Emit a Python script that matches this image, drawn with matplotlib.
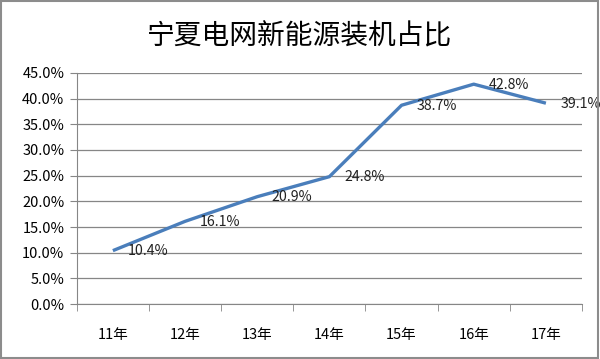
import matplotlib.pyplot as plt
from matplotlib.patches import Rectangle
from matplotlib.ticker import FuncFormatter, MultipleLocator

plt.rcParams['font.family'] = ['Noto Sans CJK SC', 'DejaVu Sans']

# data
years = ["11年", "12年", "13年", "14年", "15年", "16年", "17年"]
share = [10.4, 16.1, 20.9, 24.8, 38.7, 42.8, 39.1]

fig = plt.figure(figsize=(6, 3.59), dpi=100)
ax = fig.add_axes([0.128, 0.153, 0.842, 0.644])

x = list(range(len(years)))
ax.plot(x, share, color="#4a7ebb", linewidth=2.4, solid_capstyle="butt")

for xi, v in zip(x, share):
    ax.annotate(f"{v:.1f}%", (xi, v), xytext=(10.5, -0.5), textcoords="offset points",
                va="center", ha="left", fontsize=10.2, color="#222222")

ax.set_xlim(-0.5, len(years) - 0.5)
ax.set_ylim(0, 45)
ax.yaxis.set_major_locator(MultipleLocator(5))
ax.yaxis.set_major_formatter(FuncFormatter(lambda v, p: f"{v:.1f}%"))
ax.set_xticks(x)
ax.set_xticklabels(years)
ax.set_xticks([i - 0.5 for i in range(len(years) + 1)], minor=True)
ax.tick_params(axis="x", which="major", length=0, pad=17, labelsize=10.5)
ax.tick_params(axis="x", which="minor", length=5, color="#868686")
ax.tick_params(axis="y", length=5, color="#868686", labelsize=10.5, pad=4)

ax.grid(axis="y", color="#868686", linewidth=0.9)
ax.set_axisbelow(True)
for s in ["top", "right"]:
    ax.spines[s].set_visible(False)
for s in ["left", "bottom"]:
    ax.spines[s].set_color("#868686")

fig.text(0.5, 0.898, "宁夏电网新能源装机占比", ha="center", va="center", fontsize=20)

# outer frame
fig.patches.append(Rectangle((0.002, 0.003), 0.995, 0.994, transform=fig.transFigure,
                             fill=False, edgecolor="#8c8c8c", linewidth=1.5))

fig.savefig("out.png", dpi=100)
plt.close(fig)
